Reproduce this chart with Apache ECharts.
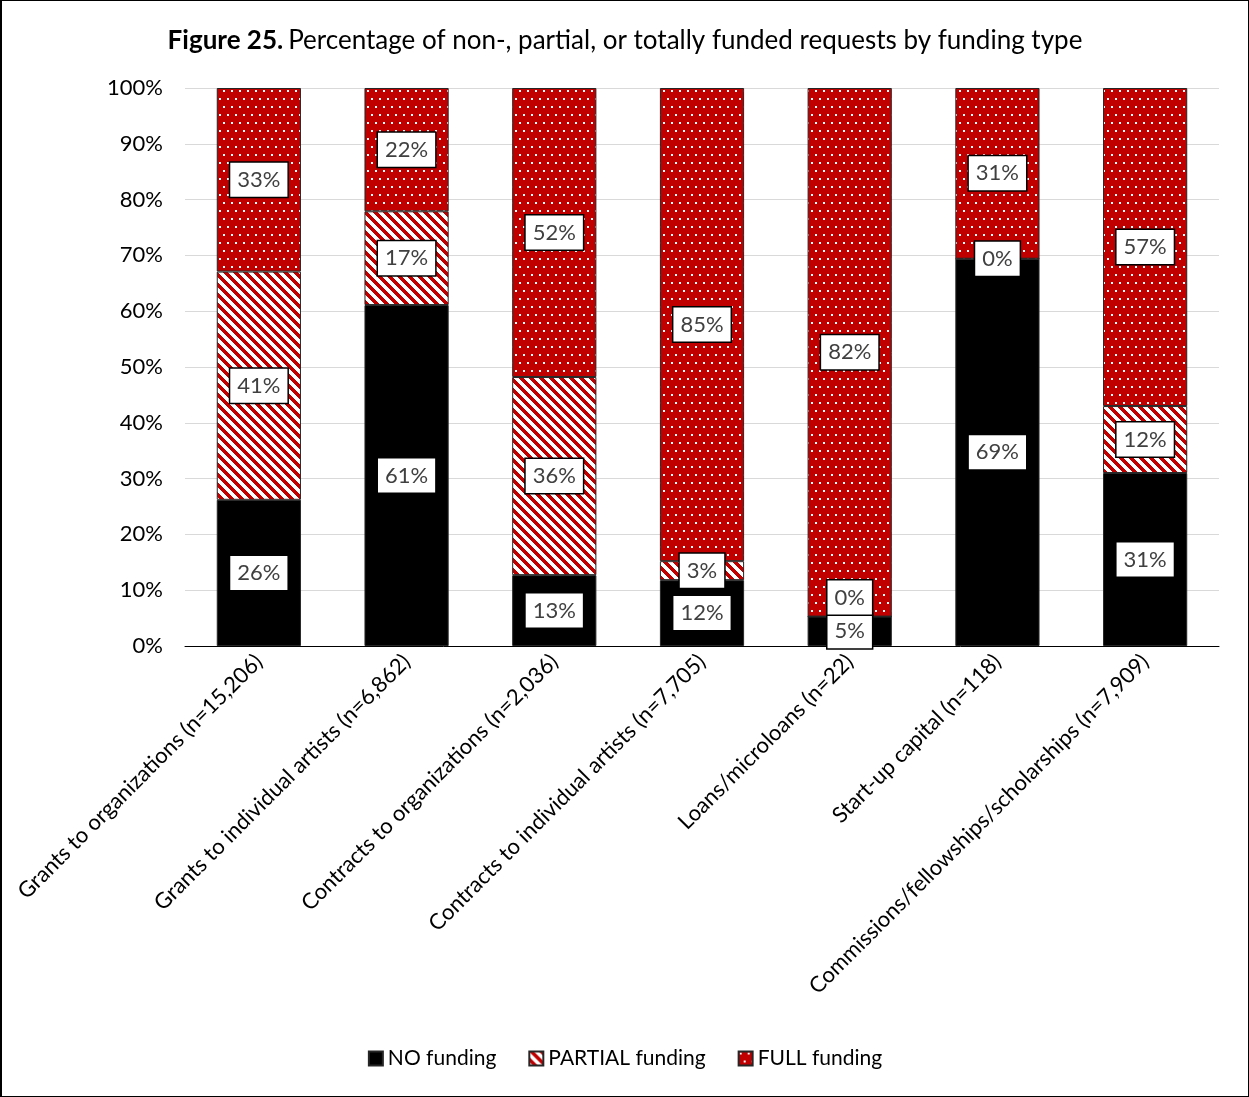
<!DOCTYPE html>
<html>
<head>
<meta charset="utf-8">
<script src="https://cdn.jsdelivr.net/npm/echarts@6/dist/echarts.min.js"></script>
<style>
  html, body { margin: 0; padding: 0; background: #fff; }
  #chart { width: 1249px; height: 1097px; box-sizing: border-box; border: 1px solid #000; border-left-width: 2px; }
</style>
</head>
<body>
<div id="chart"></div>
<script>
// Funding types (x axis categories)
const categories = [
  'Grants to organizations (n=15,206)',
  'Grants to individual artists (n=6,862)',
  'Contracts to organizations (n=2,036)',
  'Contracts to individual artists (n=7,705)',
  'Loans/microloans (n=22)',
  'Start-up capital (n=118)',
  'Commissions/fellowships/scholarships (n=7,909)'
];

// Share of requests (%) per outcome
const noFunding      = [26.2, 61.1, 12.7, 11.8, 4.55, 69.4, 31.0];
const partialFunding = [40.9, 16.8, 35.5, 3.4, 0, 0, 12.0];
const fullFunding    = [32.9, 22.1, 51.8, 84.8, 81.8, 30.6, 57.0];

const yTicks = [0, 10, 20, 30, 40, 50, 60, 70, 80, 90, 100];

const seriesNames = ['NO funding', 'PARTIAL funding', 'FULL funding'];

const FONT = 'Lato, "Open Sans", sans-serif';

// Pixel patterns for the fills
function makePattern(w, h, fn) {
  const c = document.createElement('canvas');
  c.width = w; c.height = h;
  const ctx = c.getContext('2d');
  const img = ctx.createImageData(w, h);
  for (let y = 0; y < h; y++) {
    for (let x = 0; x < w; x++) {
      const rgb = fn(x, y);
      const i = (y * w + x) * 4;
      img.data[i] = rgb[0]; img.data[i + 1] = rgb[1]; img.data[i + 2] = rgb[2]; img.data[i + 3] = 255;
    }
  }
  ctx.putImageData(img, 0, 0);
  return c;
}
const redRGB = [192, 0, 0], whiteRGB = [255, 255, 255];
// wide downward diagonal stripes
const stripeCanvas = makePattern(10, 10, (x, y) => (((x - y) % 10 + 10) % 10) < 5 ? redRGB : whiteRGB);
// red with a staggered grid of small white dots
const dotCanvas = makePattern(8, 16, (x, y) => {
  const d1 = (x >= 1 && x <= 2 && y >= 1 && y <= 2);
  const d2 = (x >= 5 && x <= 6 && y >= 9 && y <= 10);
  return (d1 || d2) ? whiteRGB : redRGB;
});

const raw = [noFunding, partialFunding, fullFunding];
const totals = categories.map((_, i) => noFunding[i] + partialFunding[i] + fullFunding[i]);
// 100% stacked: each column is normalised to its own total
const shares = raw.map(arr => arr.map((v, i) => v / totals[i] * 100));

const fills = ['#000000', { image: stripeCanvas, repeat: 'repeat' }, { image: dotCanvas, repeat: 'repeat' }];

const labelStyle = {
  show: true,
  position: 'inside',
  fontFamily: FONT,
  fontSize: 22,
  color: '#404040',
  backgroundColor: '#fff',
  borderColor: '#000',
  borderWidth: 1.5,
  padding: [6, 7, 5, 7],
  lineHeight: 23
};

const series = seriesNames.map((name, s) => ({
  name: name,
  type: 'bar',
  stack: 'total',
  barWidth: '57%',
  data: shares[s],
  itemStyle: { color: fills[s], borderColor: '#262626', borderWidth: 1 },
  label: Object.assign({}, labelStyle, {
    formatter: p => Math.round(raw[s][p.dataIndex]) + '%'
  }),
  labelLine: s === 1 ? { show: true, lineStyle: { color: '#a6a6a6', width: 1.5 } } : undefined,
  emphasis: { disabled: true }
}));

const chart = echarts.init(document.getElementById('chart'), null, { renderer: 'canvas' });
chart.setOption({
  animation: false,
  backgroundColor: '#fff',
  title: {
    text: '{b|Figure 25.} {n|Percentage of non-, partial, or totally funded requests by funding type}',
    left: 'center',
    top: 22,
    textStyle: {
      rich: {
        b: { fontFamily: FONT, fontSize: 26, fontWeight: 'bold', color: '#000' },
        n: { fontFamily: FONT, fontSize: 26, fontWeight: 'normal', color: '#000' }
      }
    }
  },
  legend: {
    data: seriesNames,
    bottom: 22,
    left: 'center',
    icon: 'rect',
    itemWidth: 14,
    itemHeight: 14,
    itemGap: 32,
    textStyle: { fontFamily: FONT, fontSize: 21, color: '#000' }
  },
  grid: { left: 183, right: 29, top: 87, bottom: 450, containLabel: false },
  xAxis: {
    type: 'category',
    data: categories,
    axisLine: { show: true, lineStyle: { color: '#000', width: 1 } },
    axisTick: { show: false },
    axisLabel: {
      interval: 0,
      rotate: 45,
      margin: 12,
      fontFamily: FONT,
      fontSize: 22,
      color: '#000'
    }
  },
  yAxis: {
    type: 'value',
    min: yTicks[0],
    max: yTicks[yTicks.length - 1],
    interval: yTicks[1] - yTicks[0],
    axisLine: { show: false },
    axisTick: { show: false },
    splitLine: { lineStyle: { color: '#d9d9d9', width: 1 } },
    axisLabel: {
      formatter: '{value}%',
      margin: 22,
      fontFamily: FONT,
      fontSize: 22,
      color: '#000'
    }
  },
  labelLayout: function (params) {
    // lift the empty "partial" label on the loans column off the one below it
    if (params.seriesIndex === 1 && params.dataIndex === 4) {
      return { dy: -19, dx: 0 };
    }
    return {};
  },
  series: series
});
</script>
</body>
</html>
